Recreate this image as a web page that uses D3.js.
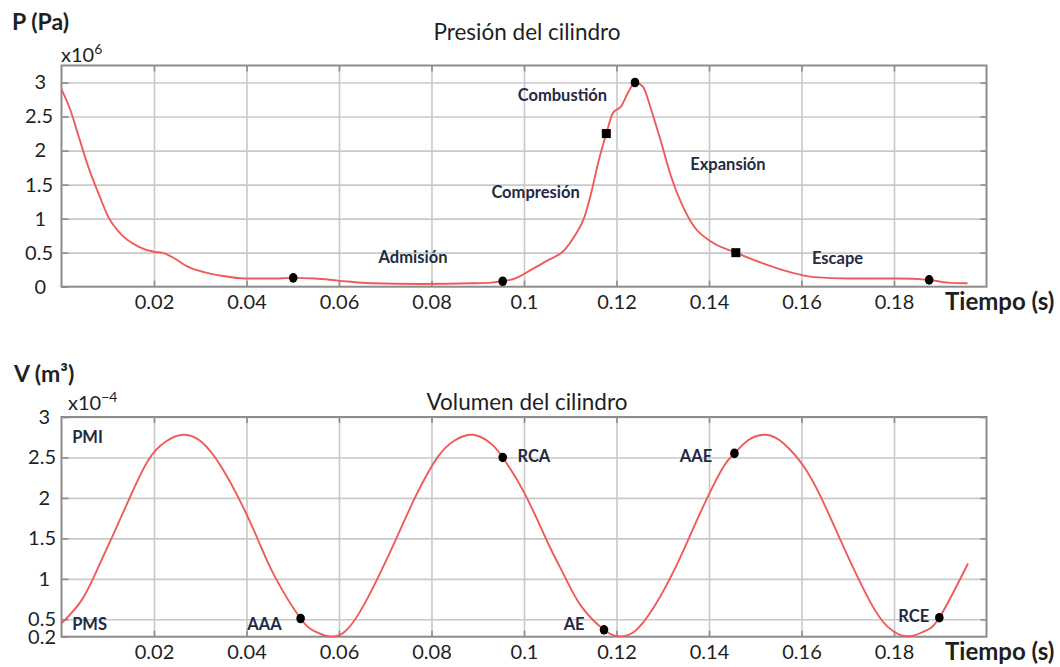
<!DOCTYPE html>
<html>
<head>
<meta charset="utf-8">
<script src="https://cdn.jsdelivr.net/npm/d3@7"></script>
<style>
  body { margin: 0; background: #fff; }
  svg { display: block; font-family: Lato, "Open Sans", sans-serif; }
</style>
</head>
<body>
<svg id="chart" width="1060" height="667"></svg>
<script>
// ---- Cylinder pressure (x10^6 Pa) over time (s) ----
const pTime  = [0, 0.0019, 0.0037, 0.0058, 0.0080, 0.0101, 0.0130, 0.0166, 0.0202, 0.0217, 0.0238, 0.0274,
                0.0310, 0.0346, 0.0397, 0.0454, 0.0501, 0.0548, 0.0598, 0.0670, 0.0778, 0.0886, 0.0929, 0.0954,
                0.0980, 0.1016, 0.1052, 0.1088, 0.1109, 0.1131, 0.1145, 0.1160, 0.1178, 0.1192, 0.1210, 0.1228,
                0.1240, 0.1257, 0.1275, 0.1297, 0.1318, 0.1340, 0.1368, 0.1405, 0.1458, 0.1498, 0.1556, 0.1628,
                0.1700, 0.1808, 0.1876, 0.1916, 0.1959];
const pValue = [2.90, 2.60, 2.21, 1.76, 1.37, 1.03, 0.76, 0.59, 0.51, 0.50, 0.44, 0.29,
                0.21, 0.16, 0.12, 0.12, 0.13, 0.12, 0.09, 0.05, 0.04, 0.05, 0.06, 0.08,
                0.12, 0.25, 0.39, 0.54, 0.74, 1.03, 1.37, 1.81, 2.25, 2.55, 2.65, 2.89,
                3.00, 2.94, 2.60, 2.11, 1.62, 1.23, 0.88, 0.66, 0.50, 0.39, 0.25, 0.14,
                0.12, 0.12, 0.10, 0.06, 0.05];

// Event points on the pressure curve
const pMarkTime  = [0.0501, 0.0954, 0.1178, 0.1240, 0.1458, 0.1876];
const pMarkValue = [0.13, 0.08, 2.25, 3.00, 0.50, 0.10];
const pMarkShape = ["circle", "circle", "square", "circle", "square", "circle"];

// Stroke phase names and where they sit (time, pressure)
const phaseNames = ["Admisión", "Compresión", "Combustión", "Expansión", "Escape"];
const phaseTime  = [0.0760, 0.1025, 0.1083, 0.1441, 0.1678];
const phaseValue = [0.35, 1.30, 2.73, 1.72, 0.33];

// ---- Cylinder volume (x10^-4 m^3) over time (s) ----
const vTime  = [0, 0.0044, 0.0080, 0.0116, 0.0152, 0.0188, 0.0224, 0.0263, 0.0303, 0.0346, 0.0389, 0.0425,
                0.0461, 0.0517, 0.0548, 0.0576, 0.0613, 0.0656, 0.0699, 0.0735, 0.0771, 0.0814, 0.0850, 0.0890,
                0.0929, 0.0954, 0.1001, 0.1052, 0.1088, 0.1124, 0.1173, 0.1203, 0.1239, 0.1282, 0.1325, 0.1361,
                0.1397, 0.1433, 0.1455, 0.1484, 0.1523, 0.1562, 0.1606, 0.1642, 0.1678, 0.1714, 0.1750, 0.1786,
                0.1829, 0.1865, 0.1898, 0.1960];
const vValue = [0.45, 0.74, 1.15, 1.60, 2.06, 2.47, 2.69, 2.78, 2.69, 2.38, 1.93, 1.48,
                1.03, 0.51, 0.35, 0.29, 0.35, 0.70, 1.19, 1.64, 2.08, 2.51, 2.71, 2.78,
                2.67, 2.50, 2.06, 1.44, 1.03, 0.66, 0.37, 0.29, 0.35, 0.66, 1.11, 1.56,
                2.01, 2.40, 2.55, 2.71, 2.78, 2.67, 2.38, 2.01, 1.56, 1.11, 0.70, 0.41,
                0.29, 0.35, 0.52, 1.19];

// Valve events on the volume curve
const vMarkTime  = [0.0517, 0.0954, 0.1173, 0.1455, 0.1898];
const vMarkValue = [0.51, 2.50, 0.37, 2.55, 0.52];

// Event / dead-centre labels (time, volume) and anchor side
const vLabelNames  = ["PMI", "PMS", "AAA", "RCA", "AE", "AAE", "RCE"];
const vLabelTime   = [0.0023, 0.0023, 0.0476, 0.0986, 0.1131, 0.1407, 0.1876];
const vLabelValue  = [2.68, 0.37, 0.37, 2.44, 0.37, 2.44, 0.47];
const vLabelAnchor = ["start", "start", "end", "start", "end", "end", "end"];

// ---- Axis ticks ----
const timeTicks   = [0.02, 0.04, 0.06, 0.08, 0.1, 0.12, 0.14, 0.16, 0.18];
const timeGrid    = [0, 0.02, 0.04, 0.06, 0.08, 0.1, 0.12, 0.14, 0.16, 0.18, 0.2];
const pTicks      = [0, 0.5, 1, 1.5, 2, 2.5, 3];
const vTicks      = [0.285, 0.5, 1, 1.5, 2, 2.5, 3];
const vTickLabels = ["0.2", "0.5", "1", "1.5", "2", "2.5", "3"];

const svg = d3.select("#chart");

const xScale = d3.scaleLinear().domain([0, 0.2]).range([61.5, 986.5]);
const yP = d3.scaleLinear().domain([0, 3.25]).range([286.7, 65.5]);
const yV = d3.scaleLinear().domain([0.285, 3]).range([636.7, 417]);

const GRID = "#c9c9c9", FRAME = "#8c8c8c", CURVE = "#ef5b5b", INK = "#1f1f1f", NOTE = "#232a44";

function panel(cfg) {
  const { y, ticks, tickLabel, data, marks, decEnd, intEnd, curve } = cfg;
  const [x0, x1] = xScale.range();
  const [yb, yt] = y.range();
  const g = svg.append("g");

  // horizontal grid
  g.append("g")
    .attr("transform", `translate(${x0},0)`)
    .call(d3.axisLeft(y).tickValues(ticks.filter(t => t > y.domain()[0])).tickSize(-(x1 - x0)).tickFormat(""))
    .call(a => a.select(".domain").remove())
    .call(a => a.selectAll("line").attr("stroke", GRID).attr("stroke-width", 1.6));

  // vertical grid
  g.append("g")
    .attr("transform", `translate(0,${yb})`)
    .call(d3.axisBottom(xScale).tickValues(timeGrid.slice(1, -1)).tickSize(-(yb - yt)).tickFormat(""))
    .call(a => a.select(".domain").remove())
    .call(a => a.selectAll("line").attr("stroke", GRID).attr("stroke-width", 1.6));

  // inward tick marks on all four sides
  const tickStyle = a => a.call(s => s.select(".domain").remove())
    .selectAll("line").attr("stroke", FRAME).attr("stroke-width", 1.6);
  g.append("g").attr("transform", `translate(0,${yt})`)
    .call(d3.axisBottom(xScale).tickValues(timeTicks).tickSize(6).tickFormat("")).call(tickStyle);
  g.append("g").attr("transform", `translate(0,${yb})`)
    .call(d3.axisTop(xScale).tickValues(timeTicks).tickSize(6).tickFormat("")).call(tickStyle);
  g.append("g").attr("transform", `translate(${x0},0)`)
    .call(d3.axisRight(y).tickValues(ticks).tickSize(7).tickFormat("")).call(tickStyle);
  g.append("g").attr("transform", `translate(${x1},0)`)
    .call(d3.axisLeft(y).tickValues(ticks.filter(t => t > y.domain()[0])).tickSize(6).tickFormat("")).call(tickStyle);

  // frame
  g.append("rect")
    .attr("x", x0).attr("y", yt).attr("width", x1 - x0).attr("height", yb - yt)
    .attr("fill", "none").attr("stroke", FRAME).attr("stroke-width", 2);

  // y tick labels, aligned on the decimal point
  const yAx = g.append("g").attr("transform", `translate(${x0},0)`)
    .call(d3.axisLeft(y).tickValues(ticks).tickSize(0).tickPadding(0).tickFormat(tickLabel));
  yAx.select(".domain").remove();
  yAx.selectAll("text")
    .attr("x", function () { return (this.textContent.includes(".") ? decEnd : intEnd) - x0; })
    .attr("fill", INK).style("font-size", "20px").style("font-family", "Lato, sans-serif");

  // x tick labels
  const xAx = g.append("g").attr("transform", `translate(0,${yb})`)
    .call(d3.axisBottom(xScale).tickValues(timeTicks).tickSize(0).tickPadding(8).tickFormat(d3.format("~g")));
  xAx.select(".domain").remove();
  xAx.selectAll("text").attr("fill", INK).style("font-size", "20px").style("font-family", "Lato, sans-serif");

  // curve
  const line = d3.line().x(d => xScale(d[0])).y(d => y(d[1])).curve(curve);
  g.append("path").datum(data)
    .attr("d", line).attr("fill", "none").attr("stroke", CURVE).attr("stroke-width", 1.9)
    .attr("stroke-linejoin", "round");

  // event markers
  marks.forEach(m => {
    const cx = xScale(m[0]), cy = y(m[1]);
    if (m[2] === "square") {
      g.append("rect").attr("x", cx - 4.5).attr("y", cy - 4.5).attr("width", 9).attr("height", 9).attr("fill", "#000");
    } else {
      g.append("ellipse").attr("cx", cx).attr("cy", cy).attr("rx", 4.3).attr("ry", 4.8).attr("fill", "#000");
    }
  });
  return g;
}

// ---------- pressure panel ----------
const gP = panel({
  y: yP, ticks: pTicks, tickLabel: d3.format("~g"),
  data: pTime.map((t, i) => [t, pValue[i]]),
  marks: pMarkTime.map((t, i) => [t, pMarkValue[i], pMarkShape[i]]),
  decEnd: 53, intEnd: 46, curve: d3.curveMonotoneX
});
phaseNames.forEach((n, i) => {
  gP.append("text").attr("x", xScale(phaseTime[i])).attr("y", yP(phaseValue[i]))
    .attr("text-anchor", "middle").attr("fill", NOTE)
    .style("font-size", "16.5px").style("font-weight", 700).text(n);
});

// ---------- volume panel ----------
const gV = panel({
  y: yV, ticks: vTicks, tickLabel: (d, i) => vTickLabels[i],
  data: vTime.map((t, i) => [t, vValue[i]]),
  marks: vMarkTime.map((t, i) => [t, vMarkValue[i], "circle"]),
  decEnd: 56, intEnd: 50, curve: d3.curveNatural
});
vLabelNames.forEach((n, i) => {
  gV.append("text").attr("x", xScale(vLabelTime[i])).attr("y", yV(vLabelValue[i]))
    .attr("text-anchor", vLabelAnchor[i]).attr("fill", NOTE)
    .style("font-size", "16.5px").style("font-weight", 700).text(n);
});

// ---------- titles, units and axis names ----------
function label(x, y, txt, opts = {}) {
  return svg.append("text").attr("x", x).attr("y", y)
    .attr("text-anchor", opts.anchor || "start").attr("fill", INK)
    .style("font-size", (opts.size || 20) + "px").style("font-weight", opts.bold ? 700 : 400)
    .text(txt);
}
label(12, 30, "P (Pa)", { bold: true, size: 23 });
label(527, 40, "Presión del cilindro", { anchor: "middle", size: 22.5 });
const e6 = label(61, 62, "x10", { size: 20 });
e6.append("tspan").attr("dy", -8).style("font-size", "14px").text("6");
label(945, 310, "Tiempo (s)", { bold: true, size: 24 });

label(14, 382, "V (m³)", { bold: true, size: 23 });
label(527, 410, "Volumen del cilindro", { anchor: "middle", size: 22.5 });
const e4 = label(68, 410, "x10", { size: 20 });
e4.append("tspan").attr("dy", -8).style("font-size", "14px").text("−4");
label(945, 660, "Tiempo (s)", { bold: true, size: 24 });
</script>
</body>
</html>
